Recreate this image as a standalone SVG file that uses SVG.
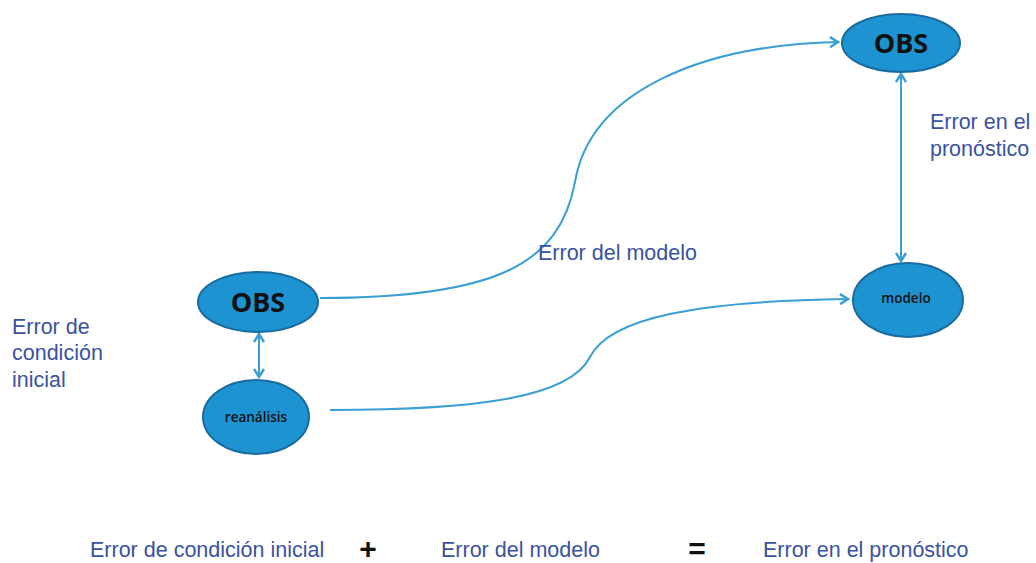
<svg xmlns="http://www.w3.org/2000/svg" width="1036" height="563" viewBox="0 0 1036 563">
<style>
.node{fill:#1d93d2;stroke:#1a6b9e;stroke-width:2}
.big{font-family:"Open Sans","Liberation Sans",sans-serif;font-weight:bold;font-size:27px;fill:#111;text-anchor:middle}
.small{font-family:"Open Sans","Liberation Sans",sans-serif;font-weight:600;font-size:13.5px;fill:#111;text-anchor:middle}
.lbl{font-family:"Liberation Sans",Arial,sans-serif;font-size:21.5px;fill:#3a52a2}
.op{font-family:"Liberation Sans",Arial,sans-serif;font-weight:bold;font-size:30px;fill:#111;text-anchor:middle}
.conn{fill:none;stroke:#3a9fd3;stroke-width:2}
</style>
<defs>
<marker id="ah" viewBox="0 0 12 12" refX="10" refY="6" markerWidth="12" markerHeight="12" markerUnits="userSpaceOnUse" orient="auto-start-reverse">
<path d="M2,1 L10,6 L2,11" fill="none" stroke="#3a9fd3" stroke-width="2.5"/>
</marker>
</defs>
<g id="connectors">
<path class="conn" d="M320,298 C500,298 560,262 575,182 C590,92 700,45 838,42" marker-end="url(#ah)"/>
<path class="conn" d="M330,410 C480,410 570,397 590,357 C610,317 700,301 848,299" marker-end="url(#ah)"/>
<line class="conn" x1="259" y1="334" x2="259" y2="377" marker-start="url(#ah)" marker-end="url(#ah)"/>
<line class="conn" x1="901" y1="74" x2="901" y2="261" marker-start="url(#ah)" marker-end="url(#ah)"/>
</g>
<g id="obs-left">
<ellipse class="node" cx="258" cy="302" rx="60" ry="30"/>
<text class="big" x="258" y="312">OBS</text>
</g>
<g id="reanalisis">
<ellipse class="node" cx="256" cy="417" rx="53" ry="37"/>
<text class="small" x="256" y="422">reanálisis</text>
</g>
<g id="obs-right">
<ellipse class="node" cx="901" cy="43" rx="59" ry="29"/>
<text class="big" x="901" y="53">OBS</text>
</g>
<g id="modelo">
<ellipse class="node" cx="908" cy="300" rx="55" ry="37"/>
<text class="small" x="906" y="303">modelo</text>
</g>
<g id="labels">
<text class="lbl" x="930" y="129">Error en el</text>
<text class="lbl" x="930" y="156">pronóstico</text>
<text class="lbl" x="538" y="260">Error del modelo</text>
<text class="lbl" x="12" y="334">Error de</text>
<text class="lbl" x="12" y="360">condición</text>
<text class="lbl" x="12" y="387">inicial</text>
<text class="lbl" x="90" y="557">Error de condición inicial</text>
<text class="lbl" x="441" y="557">Error del modelo</text>
<text class="lbl" x="763" y="557">Error en el pronóstico</text>
<text class="op" x="368" y="559">+</text>
<text class="op" x="697" y="559">=</text>
</g>
</svg>
